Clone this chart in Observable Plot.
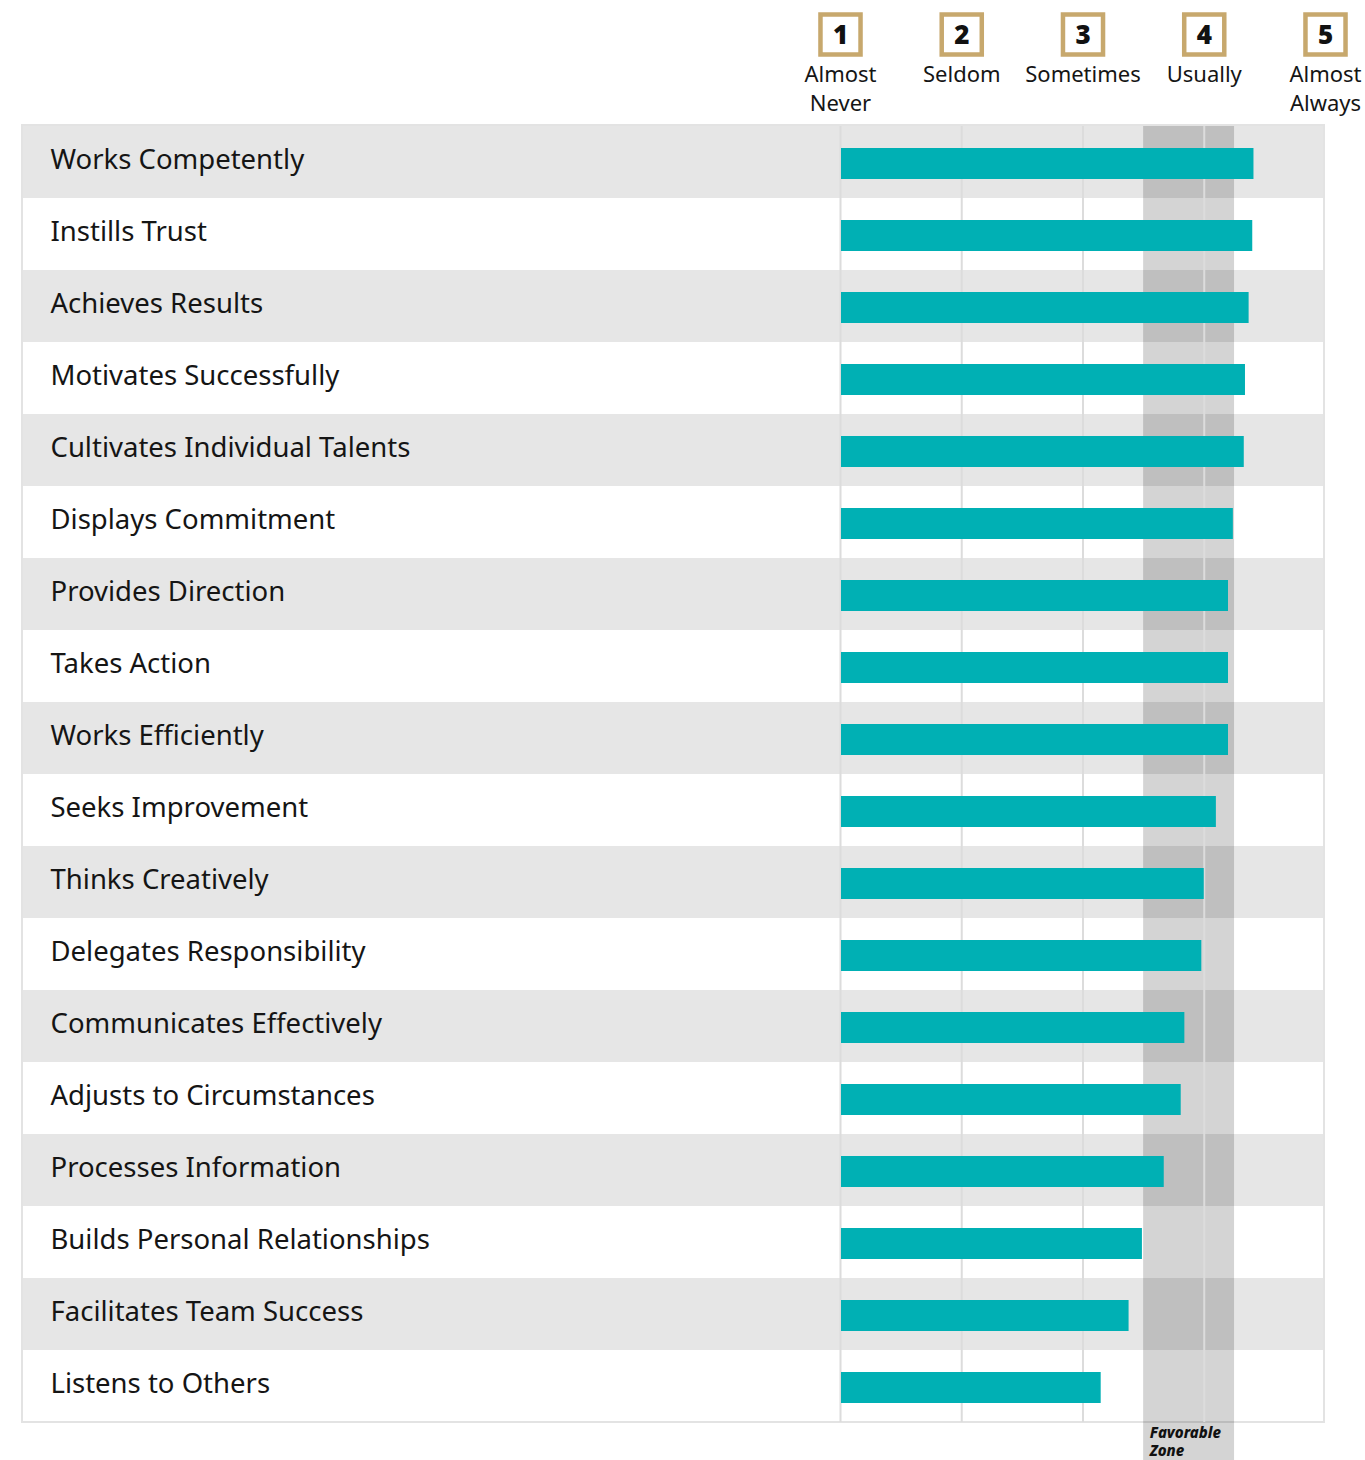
<!DOCTYPE html>
<html>
<head>
<meta charset="utf-8">
<script src="https://cdn.jsdelivr.net/npm/d3@7"></script>
<script src="https://cdn.jsdelivr.net/npm/@observablehq/plot@0.6"></script>
<style>
  html, body { margin: 0; padding: 0; background: #fff; }
  #chart svg { display: block; }
</style>
</head>
<body>
<div id="chart"></div>
<script>
const competencies = [
  "Works Competently", "Instills Trust", "Achieves Results", "Motivates Successfully",
  "Cultivates Individual Talents", "Displays Commitment", "Provides Direction", "Takes Action",
  "Works Efficiently", "Seeks Improvement", "Thinks Creatively", "Delegates Responsibility",
  "Communicates Effectively", "Adjusts to Circumstances", "Processes Information",
  "Builds Personal Relationships", "Facilitates Team Success", "Listens to Others"
];
const scores = [4.41, 4.40, 4.37, 4.34, 4.33, 4.24, 4.20, 4.20, 4.20, 4.10, 4.00, 3.98, 3.84, 3.81, 3.67, 3.49, 3.38, 3.15];
const scaleValues = [1, 2, 3, 4, 5];
const scaleLine1 = ["Almost", "Seldom", "Sometimes", "Usually", "Almost"];
const scaleLine2 = ["Never", "", "", "", "Always"];
const zoneStart = 3.5;
const zoneEnd = 4.25;
const zoneLine1 = "Favorable";
const zoneLine2 = "Zone";

const rows = competencies.map((name, i) => ({name, score: scores[i], i}));
const header = scaleValues.map((v, i) => ({v, l1: scaleLine1[i], l2: scaleLine2[i]}));
const font = "Noto Sans, sans-serif";
const ink = "#151515";

const chart = Plot.plot({
  width: 1365,
  height: 1460,
  marginLeft: 840,
  marginRight: 40,
  marginTop: 126,
  marginBottom: 38,
  style: {fontFamily: font, background: "#fff", overflow: "visible"},
  x: {domain: [1, 5], axis: null},
  y: {domain: competencies, axis: null, padding: 0, round: false},
  marks: [
    // row stripes
    Plot.barX(rows.filter(d => d.i % 2 === 0), {
      x1: 1, x2: 5, y: "name", fill: "#e6e6e6", insetLeft: -818, insetRight: 1
    }),
    // table border
    Plot.rect([0], {x1: 1, x2: 5, fill: "none", stroke: "#e3e3e3", strokeWidth: 2, insetLeft: -818, insetRight: 1, insetTop: -1}),
    // favorable zone
    Plot.rect([0], {x1: zoneStart, x2: zoneEnd, fill: "#000", fillOpacity: 0.17, insetBottom: -38}),
    // gridlines
    Plot.ruleX(scaleValues.slice(0, 4), {stroke: "#dcdcdc", strokeWidth: 2}),
    // bars
    Plot.barX(rows, {x1: 1, x2: "score", y: "name", fill: "#00b0b4", insetTop: 22, insetBottom: 19, insetLeft: 1}),
    // competency labels
    Plot.text(rows, {
      y: "name", text: "name", frameAnchor: "left", textAnchor: "start",
      dx: -790, dy: -2, fontSize: 27.5, fill: ink
    }),
    // header boxes
    Plot.dot(header, {
      x: "v", frameAnchor: "top", dy: -92, symbol: "square", r: 22.6,
      stroke: "#c7a86d", strokeWidth: 4.5, fill: "#fff"
    }),
    Plot.text(header, {
      x: "v", text: d => String(d.v), frameAnchor: "top", lineAnchor: "middle", dy: -91,
      fontSize: 26, fontWeight: 900, fill: "#111"
    }),
    Plot.text(header, {
      x: "v", text: "l1", frameAnchor: "top", lineAnchor: "middle", dy: -52, fontSize: 22, fill: ink
    }),
    Plot.text(header, {
      x: "v", text: "l2", frameAnchor: "top", lineAnchor: "middle", dy: -23, fontSize: 22, fill: ink
    }),
    // zone label
    Plot.text([zoneLine1], {
      x: zoneStart, text: d => d, frameAnchor: "bottom", textAnchor: "start",
      lineAnchor: "middle", dx: 6, dy: 11,
      fontSize: 15, fontWeight: 800, fontStyle: "italic", fill: "#111"
    }),
    Plot.text([zoneLine2], {
      x: zoneStart, text: d => d, frameAnchor: "bottom", textAnchor: "start",
      lineAnchor: "middle", dx: 6, dy: 29,
      fontSize: 15, fontWeight: 800, fontStyle: "italic", fill: "#111"
    })
  ]
});
document.getElementById("chart").append(chart);
</script>
</body>
</html>
